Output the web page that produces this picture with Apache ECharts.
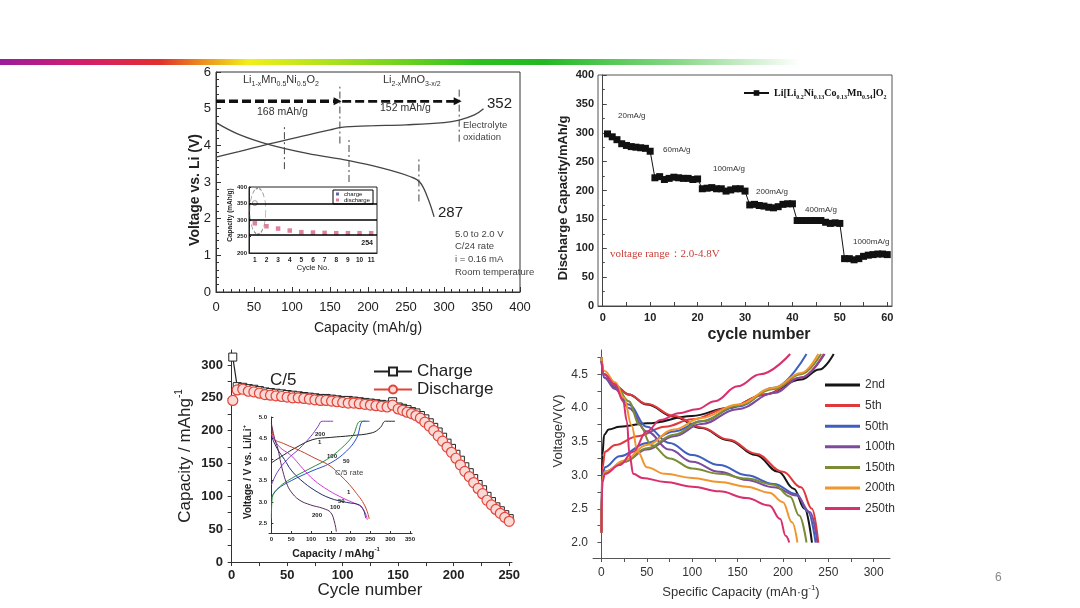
<!DOCTYPE html>
<html lang="en">
<head>
<meta charset="UTF-8">
<title>Li-rich cathode charts</title>
<style>
    html, body { margin: 0; padding: 0; background: #fff; }
    #chartContainer { width: 1080px; height: 608px; }
</style>
<script src="https://cdn.jsdelivr.net/npm/echarts@6/dist/echarts.min.js"></script>
</head>
<body>
<div id="chartContainer"></div>
<script>
    // ---------- top left: first cycle voltage profile ----------
    const tlCharge = [[0, 3.68], [30, 3.83], [70, 4.04], [120, 4.28], [150, 4.42], [165, 4.49], [200, 4.53], [250, 4.56], [300, 4.62], [320, 4.69], [340, 4.83], [352, 5.0]];
    const tlDischarge = [[0, 4.62], [30, 4.3], [70, 4.02], [120, 3.78], [175, 3.58], [220, 3.37], [255, 3.15], [268, 3.0], [278, 2.6], [287, 2.05]];
    const tlGuideCaps = [90, 163, 175, 267, 320];
    const tlGuideFrom = [3.35, 4.05, 3.0, 2.47, 4.1];
    const tlGuideTo = [4.5, 5.6, 4.23, 3.64, 5.6];
    const tlSpanLevel = 5.2;
    const tlSpanLeft = [0, 160];
    const tlSpanRight = [166, 318];

    // inset: capacity per cycle
    const tlInsetCycles = ['1', '2', '3', '4', '5', '6', '7', '8', '9', '10', '11'];
    const tlInsetDischarge = [290, 281, 274, 268, 263, 262, 261, 260, 260, 260, 260];
    const tlInsetCharge = [351];
    const tlInsetLevels = [350, 300, 254];

    // ---------- top right: rate capability ----------
    const trCycles = [1, 2, 3, 4, 5, 6, 7, 8, 9, 10, 11, 12, 13, 14, 15, 16, 17, 18, 19, 20,
        21, 22, 23, 24, 25, 26, 27, 28, 29, 30, 31, 32, 33, 34, 35, 36, 37, 38, 39, 40,
        41, 42, 43, 44, 45, 46, 47, 48, 49, 50, 51, 52, 53, 54, 55, 56, 57, 58, 59, 60];
    const trCapacity = [298, 293, 288, 281, 278, 276, 275, 274, 273, 268,
        222, 224, 219, 221, 223, 222, 221, 221, 219, 220,
        203, 204, 205, 203, 203, 199, 201, 203, 203, 199,
        175, 176, 174, 173, 171, 170, 172, 176, 177, 177,
        148, 148, 148, 148, 148, 148, 145, 143, 144, 143,
        82, 82, 80, 82, 86, 88, 89, 90, 90, 89];
    const trRates = ['20mA/g', '60mA/g', '100mA/g', '200mA/g', '400mA/g', '1000mA/g'];

    // ---------- bottom left: cycling at C/5 ----------
    const blCycles = [1, 5, 10, 15, 20, 25, 30, 35, 40, 45, 50, 55, 60, 65, 70, 75, 80, 85, 90, 95,
        100, 105, 110, 115, 120, 125, 130, 135, 140, 145, 150, 154, 158, 162, 166, 170, 174, 178,
        182, 186, 190, 194, 198, 202, 206, 210, 214, 218, 222, 226, 230, 234, 238, 242, 246, 250];
    const blCharge = [312, 267, 266, 264, 263, 261, 259, 258, 257, 256, 255, 254, 253, 252, 251, 250, 249, 249, 248, 247,
        246, 246, 245, 244, 243, 242, 241, 240, 239, 244, 236, 234, 232, 229, 227, 223, 218, 212,
        205, 198, 190, 181, 173, 164, 155, 145, 136, 127, 118, 110, 100, 92, 84, 78, 72, 66];
    const blDischarge = [246, 262, 263, 260, 259, 257, 255, 254, 253, 252, 251, 250, 250, 249, 248, 247, 246, 246, 245, 244,
        243, 242, 242, 241, 240, 239, 238, 237, 236, 239, 233, 231, 228, 226, 223, 219, 213, 207,
        200, 192, 184, 175, 167, 158, 148, 138, 130, 121, 112, 104, 94, 87, 80, 74, 68, 62];

    // inset: voltage profiles at cycles 1 / 50 / 100 / 200
    const blInCharge1 = [[0, 3.92], [30, 4.1], [60, 4.27], [105, 4.47], [150, 4.52], [200, 4.56], [255, 4.63], [275, 4.75], [288, 4.9], [312, 4.9]];
    const blInCharge50 = [[0, 3.1], [15, 3.3], [50, 3.5], [100, 3.72], [150, 3.92], [190, 4.2], [215, 4.5], [232, 4.9], [248, 4.9]];
    const blInCharge100 = [[0, 2.6], [2, 3.1], [20, 3.35], [50, 3.55], [100, 3.8], [140, 4.0], [175, 4.25], [205, 4.55], [225, 4.9], [240, 4.9]];
    const blInCharge200 = [[0, 3.4], [15, 3.7], [40, 4.0], [70, 4.25], [100, 4.55], [118, 4.78], [128, 4.9], [156, 4.9]];
    const blInDis1 = [[2, 4.75], [5, 4.5], [30, 4.38], [74, 4.2], [110, 4.03], [148, 3.85], [175, 3.62], [197, 3.41], [215, 3.2], [230, 3.01], [241, 2.8], [247, 2.6]];
    const blInDis50 = [[0, 4.6], [20, 4.3], [49, 4.1], [80, 3.78], [107, 3.52], [145, 3.27], [181, 3.09], [210, 2.97], [226, 2.89], [238, 2.72], [242, 2.58]];
    const blInDis100 = [[0, 4.55], [15, 4.25], [33, 4.0], [50, 3.75], [74, 3.52], [110, 3.27], [148, 3.09], [190, 2.99], [222, 2.93], [233, 2.8], [238, 2.62]];
    const blInDis200 = [[0, 4.85], [8, 4.5], [16, 4.27], [22, 4.0], [29, 3.72], [38, 3.45], [49, 3.25], [70, 3.05], [99, 2.93], [130, 2.85], [150, 2.75], [160, 2.5], [164, 2.3]];

    // ---------- bottom right: charge/discharge curves over cycling ----------
    const brNames = ['2nd', '5th', '50th', '100th', '150th', '200th', '250th'];
    const brColors = ['#151515', '#e0393c', '#3f5fbf', '#7d4a9e', '#7a8c35', '#f0962e', '#d8306e'];
    const brCharge = [
        [[0, 2.15], [1, 3.3], [3, 3.6], [8, 3.68], [20, 3.72], [50, 3.77], [100, 3.88], [140, 4.0], [180, 4.2], [220, 4.42], [240, 4.57], [256, 4.8]],
        [[0, 2.15], [1, 3.1], [4, 3.35], [15, 3.45], [40, 3.58], [70, 3.72], [100, 3.83], [140, 4.0], [180, 4.2], [220, 4.45], [245, 4.8]],
        [[0, 2.15], [1, 3.0], [4, 3.12], [20, 3.28], [50, 3.48], [80, 3.65], [110, 3.8], [150, 4.02], [190, 4.3], [226, 4.8]],
        [[0, 2.15], [1, 2.95], [4, 3.05], [25, 3.2], [50, 3.38], [80, 3.58], [110, 3.76], [150, 3.98], [190, 4.22], [220, 4.45], [246, 4.8]],
        [[0, 2.15], [1, 2.95], [4, 3.05], [25, 3.2], [50, 3.4], [80, 3.6], [110, 3.8], [150, 4.03], [190, 4.28], [220, 4.5], [242, 4.8]],
        [[0, 2.15], [1, 2.95], [4, 3.05], [25, 3.22], [50, 3.45], [80, 3.68], [110, 3.85], [150, 4.05], [190, 4.3], [220, 4.52], [239, 4.8]],
        [[0, 2.15], [1, 2.9], [4, 3.02], [20, 3.15], [35, 3.35], [50, 3.65], [65, 3.82], [85, 3.92], [105, 3.98], [125, 4.1], [150, 4.32], [175, 4.5], [208, 4.8]]
    ];
    const brDischarge = [
        [[0, 4.75], [3, 4.5], [15, 4.33], [30, 4.2], [50, 4.05], [80, 3.87], [110, 3.7], [140, 3.52], [170, 3.3], [195, 3.05], [212, 2.8], [224, 2.5], [232, 2.0]],
        [[0, 4.75], [3, 4.5], [15, 4.33], [30, 4.2], [50, 4.06], [80, 3.88], [110, 3.71], [140, 3.53], [170, 3.32], [200, 3.05], [220, 2.82], [232, 2.5], [239, 2.0]],
        [[0, 4.7], [3, 4.45], [15, 4.3], [30, 4.05], [50, 3.72], [75, 3.48], [100, 3.3], [130, 3.15], [160, 3.0], [190, 2.87], [215, 2.72], [228, 2.45], [236, 2.0]],
        [[0, 4.7], [3, 4.45], [15, 4.28], [30, 4.0], [50, 3.65], [75, 3.38], [100, 3.2], [130, 3.05], [160, 2.93], [190, 2.82], [215, 2.7], [230, 2.45], [238, 2.0]],
        [[0, 4.75], [3, 4.5], [15, 4.35], [30, 4.1], [42, 3.75], [55, 3.45], [75, 3.25], [100, 3.1], [130, 3.02], [160, 2.95], [190, 2.86], [208, 2.68], [218, 2.4], [226, 2.0]],
        [[0, 4.75], [3, 4.55], [15, 4.38], [25, 4.15], [33, 3.75], [40, 3.35], [50, 3.12], [70, 3.02], [100, 2.96], [130, 2.9], [160, 2.83], [185, 2.74], [200, 2.6], [210, 2.3], [216, 2.0]],
        [[0, 4.7], [3, 4.5], [15, 4.35], [24, 4.1], [28, 3.8], [31, 3.3], [35, 3.02], [45, 2.96], [70, 2.9], [100, 2.83], [130, 2.76], [160, 2.66], [185, 2.55], [197, 2.35], [203, 2.1], [207, 2.0]]
    ];

    const narrow = "'Liberation Sans Narrow', 'Arial Narrow', 'Liberation Sans', Arial, sans-serif";
    const sans = "'Liberation Sans', Arial, sans-serif";
    const serif = "'Liberation Serif', 'Times New Roman', serif";

    var chartDom = document.getElementById('chartContainer');
    var myChart = echarts.init(chartDom);

    function txt(x, y, text, style, rot) {
        return {
            type: 'text', x: x, y: y, rotation: rot || 0, silent: true,
            style: Object.assign({ text: text, fill: '#222', fontFamily: sans, fontSize: 12, align: 'left', verticalAlign: 'middle' }, style)
        };
    }
    const subRich = (size, family, weight) => ({
        n: { fontSize: size, fontFamily: family, fontWeight: weight || 'normal', lineHeight: size + 4, verticalAlign: 'middle' },
        s: { fontSize: Math.round(size * 0.6), fontFamily: family, fontWeight: weight || 'normal', lineHeight: Math.round(size * 0.6) + 1, verticalAlign: 'bottom' },
        u: { fontSize: Math.round(size * 0.6), fontFamily: family, fontWeight: weight || 'normal', lineHeight: Math.round(size * 0.6) + 1, verticalAlign: 'top' }
    });
    const ticks = (from, to, step) => {
        const out = [];
        for (let v = from; v <= to + 1e-9; v += step) out.push(+v.toFixed(2));
        return out;
    };

    const series = [];

    // top left main curves
    series.push({ type: 'line', xAxisIndex: 0, yAxisIndex: 0, data: tlCharge, smooth: 0.4, symbol: 'none', lineStyle: { color: '#444', width: 1.3 } });
    series.push({ type: 'line', xAxisIndex: 0, yAxisIndex: 0, data: tlDischarge, smooth: 0.4, symbol: 'none', lineStyle: { color: '#444', width: 1.3 } });
    tlGuideCaps.forEach((c, i) => series.push({
        type: 'line', xAxisIndex: 0, yAxisIndex: 0, symbol: 'none', silent: true,
        data: [[c, tlGuideFrom[i]], [c, tlGuideTo[i]]],
        lineStyle: { color: '#444', width: 1, type: [7, 3, 2, 3] }
    }));
    [[tlSpanLeft, 3.5], [tlSpanRight, 2.6]].forEach(([span, w]) => series.push({
        type: 'line', xAxisIndex: 0, yAxisIndex: 0, showAllSymbol: true, silent: true,
        data: [{ value: [span[0], tlSpanLevel], symbol: 'none' }, { value: [span[1], tlSpanLevel], symbol: 'triangle', symbolRotate: -90, symbolSize: 8 }],
        itemStyle: { color: '#111' }, lineStyle: { color: '#111', width: w, type: [9, 4] }
    }));

    // top left inset
    series.push({
        name: 'discharge', type: 'scatter', xAxisIndex: 1, yAxisIndex: 1, data: tlInsetDischarge,
        symbol: 'rect', symbolSize: 4.5, itemStyle: { color: '#d9607f' },
        markLine: { silent: true, symbol: 'none', label: { show: false }, lineStyle: { color: '#000', width: 1.5, type: 'solid' }, data: tlInsetLevels.map(v => ({ yAxis: v })) }
    });
    series.push({
        name: 'charge', type: 'scatter', xAxisIndex: 1, yAxisIndex: 1, data: tlInsetCharge,
        symbol: 'circle', symbolSize: 5, itemStyle: { color: '#fff', borderColor: '#888', borderWidth: 1 }
    });
    series.push({
        type: 'scatter', xAxisIndex: 1, yAxisIndex: 1, data: [327], silent: true,
        symbol: 'circle', symbolSize: [16, 46], symbolOffset: [3, 0],
        itemStyle: { color: 'rgba(0,0,0,0)', borderColor: '#777', borderType: 'dashed', borderWidth: 1 }
    });

    // top right
    series.push({
        name: 'LiNMC', type: 'line', xAxisIndex: 2, yAxisIndex: 2,
        data: trCycles.map((c, i) => [c, trCapacity[i]]),
        symbol: 'rect', symbolSize: 7, itemStyle: { color: '#111' }, lineStyle: { color: '#111', width: 1 }
    });

    // bottom left main
    series.push({
        name: 'Charge', type: 'line', xAxisIndex: 3, yAxisIndex: 3,
        data: blCycles.map((c, i) => [c, blCharge[i]]),
        symbol: 'rect', symbolSize: 8,
        itemStyle: { color: '#fff', borderColor: '#222', borderWidth: 1 }, lineStyle: { color: '#222', width: 1.2 }
    });
    series.push({
        name: 'Discharge', type: 'line', xAxisIndex: 3, yAxisIndex: 3,
        data: blCycles.map((c, i) => [c, blDischarge[i]]),
        symbol: 'circle', symbolSize: 10,
        itemStyle: { color: '#fbd9d4', borderColor: '#e0443a', borderWidth: 1.2 }, lineStyle: { color: '#e0443a', width: 1.2 }
    });

    // bottom left inset
    [[blInCharge1, '#222'], [blInCharge50, '#2a4fd0'], [blInCharge100, '#2e8b3e'], [blInCharge200, '#7b3fc4'],
     [blInDis1, '#c0452a'], [blInDis50, '#d23cd2'], [blInDis100, '#1f2a6a'], [blInDis200, '#5a2a5a']].forEach(([d, col]) =>
        series.push({ type: 'line', xAxisIndex: 4, yAxisIndex: 4, data: d, smooth: 0.4, symbol: 'none', lineStyle: { color: col, width: 1 } }));

    // bottom right
    brNames.forEach((n, i) => {
        [brCharge[i], brDischarge[i]].forEach(d => series.push({
            name: n, type: 'line', xAxisIndex: 5, yAxisIndex: 5, data: d, smooth: 0.4, smoothMonotone: 'x',
            symbol: 'none', itemStyle: { color: brColors[i] }, lineStyle: { color: brColors[i], width: 2 }
        }));
    });

    const axisBase = (grid, font, color) => ({
        gridIndex: grid, type: 'value',
        axisLine: { show: true, lineStyle: { color: color || '#333' } },
        axisTick: { show: true, lineStyle: { color: color || '#333' } },
        splitLine: { show: false },
        axisLabel: { color: '#222', fontFamily: font }
    });
    function ax(base, extra) {
        const out = Object.assign({}, base, extra);
        ['axisLine', 'axisTick', 'axisLabel'].forEach(k => { if (extra[k]) out[k] = Object.assign({}, base[k], extra[k]); });
        return out;
    }

    const xAxes = [
        ax(axisBase(0, narrow), { min: 0, max: 400, interval: 50, axisTick: { inside: true, length: 5 }, minorTick: { show: true, splitNumber: 5, length: 3, lineStyle: { color: '#333' } }, axisLabel: { fontSize: 13, margin: 9 } }),
        { gridIndex: 1, type: 'category', data: tlInsetCycles, boundaryGap: true, axisLine: { lineStyle: { color: '#222' } }, axisTick: { show: false }, axisLabel: { fontSize: 6.5, margin: 4, fontWeight: 'bold', color: '#222', interval: 0 } },
        ax(axisBase(2, sans, '#444'), { min: -1, max: 61, axisTick: { inside: true, length: 4, customValues: ticks(0, 60, 5) }, axisLabel: { fontSize: 11, fontWeight: 'bold', margin: 6, customValues: ticks(0, 60, 10) } }),
        ax(axisBase(3, sans), { min: -1.5, max: 252.5, axisTick: { length: 4, customValues: ticks(0, 250, 25) }, axisLabel: { fontSize: 13, fontWeight: 'bold', margin: 7, customValues: ticks(0, 250, 50) } }),
        ax(axisBase(4, sans), { min: -6, max: 355, axisTick: { inside: true, length: 2, customValues: ticks(0, 350, 50) }, axisLabel: { fontSize: 6, fontWeight: 'bold', margin: 3, customValues: ticks(0, 350, 50) } }),
        ax(axisBase(5, sans, '#555'), { min: -9.3, max: 318, axisTick: { length: 4, customValues: ticks(0, 300, 25) }, axisLabel: { fontSize: 12, margin: 9, color: '#333', customValues: ticks(0, 300, 50) } })
    ];
    const yAxes = [
        ax(axisBase(0, narrow), { min: 0, max: 6, interval: 1, axisTick: { inside: true, length: 5 }, minorTick: { show: true, splitNumber: 5, length: 3, lineStyle: { color: '#333' } }, axisLabel: { fontSize: 13, margin: 5 } }),
        ax(axisBase(1, narrow, '#222'), { min: 200, max: 400, interval: 50, axisTick: { inside: true, length: 2 }, axisLabel: { fontSize: 6, margin: 2, fontWeight: 'bold' } }),
        ax(axisBase(2, sans, '#444'), { min: 0, max: 400, interval: 50, axisTick: { inside: true, length: 4 }, minorTick: { show: true, splitNumber: 2, length: 2, lineStyle: { color: '#444' } }, axisLabel: { fontSize: 11, fontWeight: 'bold', margin: 4 } }),
        ax(axisBase(3, sans), { min: 0, max: 322.8, axisTick: { length: 4, customValues: ticks(0, 300, 25) }, axisLabel: { fontSize: 13, fontWeight: 'bold', margin: 7, customValues: ticks(0, 300, 50) } }),
        ax(axisBase(4, sans), { min: 2.27, max: 5.0, axisTick: { inside: true, length: 2, customValues: ticks(2.5, 5, 0.5) }, axisLabel: { fontSize: 6, fontWeight: 'bold', margin: 2, customValues: ticks(2.5, 5, 0.5), formatter: v => v.toFixed(1) } }),
        ax(axisBase(5, sans, '#555'), { min: 1.77, max: 4.86, axisTick: { length: 4, customValues: ticks(2, 4.75, 0.25) }, axisLabel: { fontSize: 12, margin: 5, color: '#333', customValues: ticks(2, 4.5, 0.5), formatter: v => v.toFixed(1) } })
    ];

    const graphics = [
        {
            type: 'rect', shape: { x: 0, y: 59, width: 800, height: 6 }, silent: true,
            style: {
                fill: new echarts.graphic.LinearGradient(0, 0, 1, 0, [
                    { offset: 0, color: '#9c1c9c' }, { offset: 0.1, color: '#d21c6e' }, { offset: 0.2, color: '#e0302e' },
                    { offset: 0.25, color: '#eb8a1e' }, { offset: 0.31, color: '#f2ef1a' }, { offset: 0.42, color: '#a8e01e' },
                    { offset: 0.6, color: '#2cc01e' }, { offset: 0.68, color: '#22b822' }, { offset: 0.85, color: '#8ad88a' },
                    { offset: 1, color: '#ffffff' }])
            }
        },
        txt(995, 578, '6', { fill: '#888', fontSize: 12 }),

        // top left
        txt(243, 80, '{n|Li}{s|1-x}{n|Mn}{s|0.5}{n|Ni}{s|0.5}{n|O}{s|2}', { fill: '#333', rich: subRich(11, narrow) }),
        txt(383, 80, '{n|Li}{s|2-x}{n|MnO}{s|3-x/2}', { fill: '#333', rich: subRich(11, narrow) }),
        txt(257, 112, '168 mAh/g', { fontFamily: narrow, fontSize: 10.5, fill: '#333' }),
        txt(380, 108, '152 mAh/g', { fontFamily: narrow, fontSize: 10.5, fill: '#333' }),
        txt(487, 104, '352', { fontFamily: narrow, fontSize: 15, fill: '#222' }),
        txt(438, 213, '287', { fontFamily: narrow, fontSize: 15, fill: '#222' }),
        txt(463, 131, 'Electrolyte\noxidation', { fontFamily: narrow, fontSize: 9.5, lineHeight: 12, fill: '#444' }),
        txt(455, 253, '5.0 to 2.0 V\nC/24 rate\ni = 0.16 mA\nRoom temperature', { fontFamily: narrow, fontSize: 9.5, lineHeight: 12.7, fill: '#444' }),
        txt(195, 190, 'Voltage vs. Li (V)', { fontSize: 14, fontWeight: 'bold', align: 'center' }, Math.PI / 2),
        txt(368, 328, 'Capacity (mAh/g)', { fontFamily: narrow, fontSize: 14, align: 'center' }),
        txt(230, 215, 'Capacity (mAh/g)', { fontFamily: narrow, fontSize: 6.5, fontWeight: 'bold', align: 'center' }, Math.PI / 2),
        txt(313, 268, 'Cycle No.', { fontFamily: narrow, fontSize: 7.5, align: 'center' }),
        txt(373, 243, '254', { fontFamily: narrow, fontSize: 7, fontWeight: 'bold', align: 'right' }),

        // top right
        txt(618, 116, trRates[0], { fontSize: 8, fill: '#333' }),
        txt(663, 150, trRates[1], { fontSize: 8, fill: '#333' }),
        txt(713, 169, trRates[2], { fontSize: 8, fill: '#333' }),
        txt(756, 192, trRates[3], { fontSize: 8, fill: '#333' }),
        txt(805, 210, trRates[4], { fontSize: 8, fill: '#333' }),
        txt(853, 242, trRates[5], { fontSize: 8, fill: '#333' }),
        txt(610, 254, 'voltage range：2.0-4.8V', { fontFamily: serif, fontSize: 11, fill: '#c8403a' }),
        txt(563, 198, 'Discharge Capacity/mAh/g', { fontSize: 13, fontWeight: 'bold', align: 'center' }, Math.PI / 2),
        txt(759, 335, 'cycle number', { fontSize: 16, fontWeight: 'bold', align: 'center' }),

        // bottom left
        txt(270, 380, 'C/5', { fontSize: 17 }),
        txt(185, 456, '{n|Capacity / mAhg}{u|-1}', { align: 'center', rich: subRich(17, sans) }, Math.PI / 2),
        txt(370, 590, 'Cycle number', { fontSize: 17, align: 'center' }),
        txt(315, 434, '200', { fontSize: 6, fontWeight: 'bold' }),
        txt(318, 442, '1', { fontSize: 6, fontWeight: 'bold' }),
        txt(327, 456, '100', { fontSize: 6, fontWeight: 'bold' }),
        txt(343, 461, '50', { fontSize: 6, fontWeight: 'bold' }),
        txt(335, 473, 'C/5 rate', { fontSize: 8, fill: '#444' }),
        txt(347, 492, '1', { fontSize: 6, fontWeight: 'bold' }),
        txt(338, 501, '50', { fontSize: 6, fontWeight: 'bold' }),
        txt(330, 507, '100', { fontSize: 6, fontWeight: 'bold' }),
        txt(312, 515, '200', { fontSize: 6, fontWeight: 'bold' }),
        txt(248, 472, '{n|Voltage / V vs. Li/Li}{u|+}', { align: 'center', rich: subRich(10, sans, 'bold') }, Math.PI / 2),
        txt(336, 554, '{n|Capacity / mAhg}{u|-1}', { align: 'center', rich: subRich(10.5, sans, 'bold') }),

        // bottom right
        txt(558, 431, 'Voltage/V(V)', { fontSize: 13, fill: '#333', align: 'center' }, Math.PI / 2),
        txt(741, 592, '{n|Specific Capacity (mAh·g}{u|-1}{n|)}', { align: 'center', fill: '#333', rich: subRich(13, sans) })
    ];

    const option = {
        animation: false,
        backgroundColor: '#fff',
        textStyle: { fontFamily: sans },
        grid: [
            { left: 216, top: 72, width: 304, height: 220, show: true, borderColor: '#333', borderWidth: 1 },
            { left: 249, top: 187, width: 128, height: 66, show: true, borderColor: '#222', borderWidth: 1, backgroundColor: '#fff' },
            { left: 598, top: 75, width: 294, height: 231, show: true, borderColor: '#555', borderWidth: 1 },
            { left: 230, top: 350, width: 282, height: 212 },
            { left: 269, top: 417, width: 143, height: 116 },
            { left: 593, top: 350, width: 297, height: 208 }
        ],
        xAxis: xAxes,
        yAxis: yAxes,
        legend: [
            {
                left: 333, top: 190, orient: 'vertical', padding: [1, 3], itemGap: 0, itemWidth: 3, itemHeight: 3,
                borderColor: '#000', borderWidth: 1, backgroundColor: '#fff',
                textStyle: { fontSize: 6, fontFamily: narrow, color: '#111' },
                data: [{ name: 'charge', icon: 'rect', itemStyle: { color: '#3d3d99', borderWidth: 0 } }, { name: 'discharge', icon: 'rect', itemStyle: { color: '#d9607f' } }]
            },
            {
                left: 738, top: 83, itemWidth: 25, itemHeight: 7, itemGap: 4, data: ['LiNMC'],
                formatter: () => '{n|Li[Li}{s|0.2}{n|Ni}{s|0.13}{n|Co}{s|0.13}{n|Mn}{s|0.54}{n|]O}{s|2}',
                textStyle: { color: '#111', rich: subRich(10, serif, 'bold') }
            },
            {
                left: 368, top: 358, orient: 'vertical', itemWidth: 38, itemHeight: 10, itemGap: 1,
                textStyle: { fontSize: 17, color: '#222' }, data: ['Charge', 'Discharge']
            },
            {
                left: 820, top: 373, orient: 'vertical', itemWidth: 35, itemHeight: 3, itemGap: 6.6, icon: 'rect',
                textStyle: { fontSize: 12, lineHeight: 14, color: '#333' }, data: brNames
            }
        ],
        graphic: graphics,
        series: series
    };

    myChart.setOption(option);
</script>
</body>
</html>
